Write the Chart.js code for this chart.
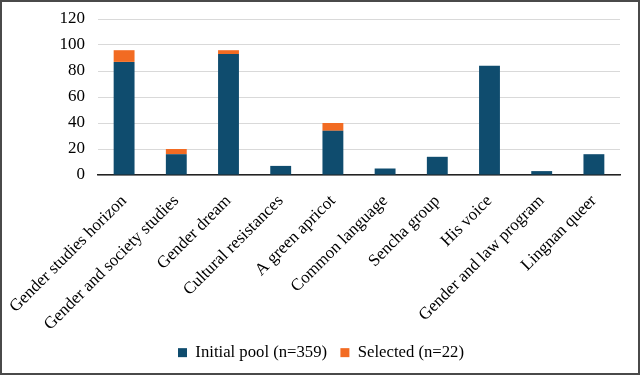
<!DOCTYPE html>
<html>
<head>
<meta charset="utf-8">
<script src="https://cdn.jsdelivr.net/npm/chart.js@4/dist/chart.umd.min.js"></script>
<style>
  html, body { margin: 0; padding: 0; background: #fff; }
  #wrap { position: relative; width: 640px; height: 375px; box-sizing: border-box; border: 2px solid #4a4a4a; background: #fff; }
  #c { display: block; }
</style>
</head>
<body>
<div id="wrap"><canvas id="c" width="636" height="371"></canvas></div>
<script>
const categories = ["Gender studies horizon", "Gender and society studies", "Gender dream", "Cultural resistances", "A green apricot", "Common language", "Sencha group", "His voice", "Gender and law program", "Lingnan queer"];
const initialPool = [87, 16, 93, 7, 34, 5, 14, 84, 3, 16];
const selected = [9, 4, 3, 0, 6, 0, 0, 0, 0, 0];
const seriesNames = ["Initial pool (n=359)", "Selected (n=22)"];
const yTicks = [0, 20, 40, 60, 80, 100, 120];

const FONT = "'Liberation Serif', 'Times New Roman', serif";
Chart.defaults.font.family = FONT;
Chart.defaults.color = '#000';

const shiftLegend = {
  id: 'shiftLegend',
  afterLayout(chart) {
    if (chart.legend) { chart.legend.left += 10; chart.legend.right += 10; }
  }
};

new Chart(document.getElementById('c'), {
  type: 'bar',
  data: {
    labels: categories,
    datasets: [
      { label: seriesNames[0], data: initialPool, backgroundColor: '#0f4c6e', categoryPercentage: 1.0, barPercentage: 0.4 },
      { label: seriesNames[1], data: selected, backgroundColor: '#f26b22', categoryPercentage: 1.0, barPercentage: 0.4 }
    ]
  },
  plugins: [shiftLegend],
  options: {
    responsive: false,
    animation: false,
    layout: { padding: { left: 0, right: 18, top: 17, bottom: 2 } },
    plugins: {
      legend: {
        position: 'bottom',
        labels: {
          font: { family: FONT, size: 16.7 },
          color: '#000',
          boxWidth: 9,
          boxHeight: 9,
          padding: 13.3
        }
      },
      tooltip: { enabled: false }
    },
    scales: {
      x: {
        stacked: true,
        grid: { display: false, drawTicks: false },
        border: { display: true, color: '#222', width: 1.5 },
        ticks: {
          font: { family: FONT, size: 17 },
          color: '#000',
          minRotation: 45,
          maxRotation: 45,
          padding: 16,
          autoSkip: false
        },
        afterFit: (s) => { s.height = 156; s.paddingLeft = 0; s.paddingRight = 0; }
      },
      y: {
        stacked: true,
        min: 0,
        max: 120,
        afterBuildTicks: (s) => { s.ticks = yTicks.map(v => ({ value: v })); },
        grid: { color: '#d9d9d9', lineWidth: 1, drawTicks: false },
        border: { display: false },
        ticks: {
          font: { family: FONT, size: 17 },
          color: '#000',
          padding: 13
        },
        afterFit: (s) => { s.width = 96; s.paddingTop = 0; s.paddingBottom = 0; }
      }
    }
  }
});
</script>
</body>
</html>
